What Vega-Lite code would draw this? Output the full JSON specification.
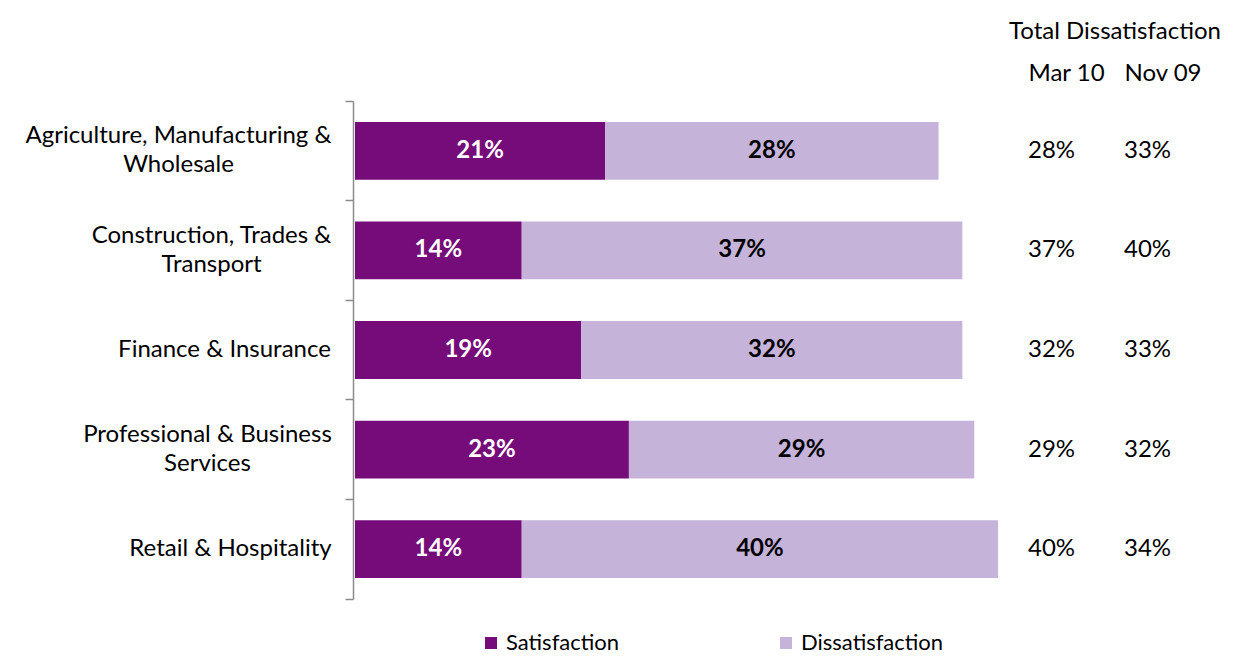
{
  "$schema": "https://vega.github.io/schema/vega-lite/v6.json",
  "background": "white",
  "padding": {"left": 24, "top": 20, "right": 5, "bottom": 0},
  "config": {
    "view": {"stroke": null},
    "font": "Lato",
    "text": {"font": "Lato"}
  },
  "spacing": 18,
  "bounds": "flush",
  "datasets": {
    "bars": [
      {"category": "Agriculture, Manufacturing &|Wholesale", "series": "Satisfaction", "value": 0.21, "order": 1},
      {"category": "Agriculture, Manufacturing &|Wholesale", "series": "Dissatisfaction", "value": 0.28, "order": 2},
      {"category": "Construction, Trades &|Transport", "series": "Satisfaction", "value": 0.14, "order": 1},
      {"category": "Construction, Trades &|Transport", "series": "Dissatisfaction", "value": 0.37, "order": 2},
      {"category": "Finance & Insurance", "series": "Satisfaction", "value": 0.19, "order": 1},
      {"category": "Finance & Insurance", "series": "Dissatisfaction", "value": 0.32, "order": 2},
      {"category": "Professional & Business|Services", "series": "Satisfaction", "value": 0.23, "order": 1},
      {"category": "Professional & Business|Services", "series": "Dissatisfaction", "value": 0.29, "order": 2},
      {"category": "Retail & Hospitality", "series": "Satisfaction", "value": 0.14, "order": 1},
      {"category": "Retail & Hospitality", "series": "Dissatisfaction", "value": 0.40, "order": 2}
    ],
    "table": [
      {"category": "Agriculture, Manufacturing &|Wholesale", "period": "Mar 10", "value": 0.28},
      {"category": "Agriculture, Manufacturing &|Wholesale", "period": "Nov 09", "value": 0.33},
      {"category": "Construction, Trades &|Transport", "period": "Mar 10", "value": 0.37},
      {"category": "Construction, Trades &|Transport", "period": "Nov 09", "value": 0.40},
      {"category": "Finance & Insurance", "period": "Mar 10", "value": 0.32},
      {"category": "Finance & Insurance", "period": "Nov 09", "value": 0.33},
      {"category": "Professional & Business|Services", "period": "Mar 10", "value": 0.29},
      {"category": "Professional & Business|Services", "period": "Nov 09", "value": 0.32},
      {"category": "Retail & Hospitality", "period": "Mar 10", "value": 0.40},
      {"category": "Retail & Hospitality", "period": "Nov 09", "value": 0.34}
    ]
  },
  "hconcat": [
    {
      "width": 655,
      "height": 498,
      "data": {"name": "bars"},
      "encoding": {
        "y": {
          "field": "category",
          "type": "nominal",
          "sort": null,
          "scale": {"paddingInner": 0, "paddingOuter": 0},
          "axis": {
            "title": null,
            "domainColor": "#8c8c8c",
            "domainWidth": 1.5,
            "tickColor": "#8c8c8c",
            "tickWidth": 1.5,
            "tickSize": 8,
            "bandPosition": 1,
            "tickExtra": true,
            "offset": 2,
            "labelAlign": "center",
            "labelPadding": {"expr": "datum.value === 'Agriculture, Manufacturing &|Wholesale' ? 167 : datum.value === 'Construction, Trades &|Transport' ? 134 : datum.value === 'Finance & Insurance' ? 121 : datum.value === 'Professional & Business|Services' ? 138 : 115"},
            "labelOffset": {"expr": "isString(datum.value) && indexof(datum.value, '|') >= 0 ? -14.5 : 0"},
            "labelExpr": "isValid(datum.value) ? split(datum.value, '|') : ''",
            "labelFont": "Lato",
            "labelFontSize": 24,
            "labelColor": "black",
            "labelLimit": 400,
            "labelLineHeight": 29
          }
        }
      },
      "layer": [
        {
          "mark": {"type": "bar", "height": {"band": 0.58}},
          "encoding": {
            "x": {"field": "value", "type": "quantitative", "stack": "zero", "scale": {"domain": [0, 0.55]}, "axis": null},
            "color": {
              "field": "series",
              "type": "nominal",
              "scale": {"domain": ["Satisfaction", "Dissatisfaction"], "range": ["#760C79", "#C5B3D9"]},
              "legend": {
                "title": null,
                "orient": "none",
                "legendX": 125,
                "legendY": 531,
                "direction": "horizontal",
                "padding": 0,
                "symbolType": "square",
                "symbolSize": 144,
                "symbolStrokeWidth": 0,
                "symbolOffset": 0,
                "labelOffset": 4,
                "labelFontSize": 22,
                "labelFont": "Lato",
                "labelColor": "black",
                "columnPadding": 155
              }
            },
            "order": {"field": "order"}
          }
        },
        {
          "mark": {"type": "text", "fontWeight": "bold", "fontSize": 24, "font": "Lato"},
          "encoding": {
            "x": {"field": "value", "type": "quantitative", "stack": "zero", "bandPosition": 0.5},
            "detail": {"field": "series"},
            "order": {"field": "order"},
            "text": {"field": "value", "type": "quantitative", "format": ".0%"},
            "color": {"condition": {"test": "datum.series === 'Satisfaction'", "value": "white"}, "value": "black"}
          }
        }
      ]
    },
    {
      "width": 96,
      "height": 498,
      "data": {"name": "table"},
      "title": {"text": "Total Dissatisfaction", "anchor": "start", "dx": -19, "fontSize": 24, "fontWeight": "normal", "font": "Lato", "color": "black", "offset": 17},
      "mark": {"type": "text", "align": "left", "fontSize": 24, "font": "Lato", "color": "black"},
      "encoding": {
        "y": {"field": "category", "type": "nominal", "sort": null, "scale": {"paddingInner": 0, "paddingOuter": 0}, "axis": null},
        "x": {
          "field": "period",
          "type": "ordinal",
          "sort": ["Mar 10", "Nov 09"],
          "scale": {"type": "point", "padding": 0},
          "axis": {
            "orient": "top",
            "title": null,
            "domain": false,
            "ticks": false,
            "labelAlign": "left",
            "labelAngle": 0,
            "labelPadding": 16,
            "labelFontSize": 24,
            "labelFont": "Lato",
            "labelColor": "black"
          }
        },
        "text": {"field": "value", "type": "quantitative", "format": ".0%"}
      }
    }
  ]
}
